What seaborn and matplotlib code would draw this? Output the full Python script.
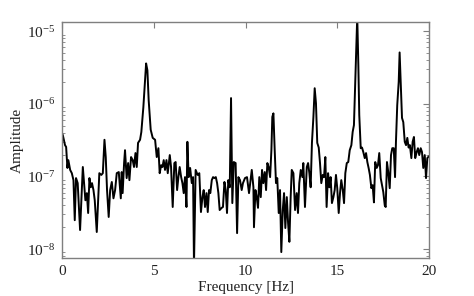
import matplotlib
matplotlib.use("Agg")
import matplotlib.pyplot as plt
import seaborn as sns
import pandas as pd
from matplotlib.ticker import LogLocator, FixedLocator

freq = [0.0, 0.04, 0.16, 0.22, 0.29, 0.34, 0.44, 0.53, 0.62, 0.69, 0.76, 0.85, 0.98, 1.13, 1.2, 1.27, 1.35, 1.42,
        1.49, 1.56, 1.63, 1.71, 1.78, 1.89, 2.03, 2.14, 2.22, 2.31, 2.38, 2.45, 2.54, 2.62, 2.71, 2.8, 2.89,
        2.98, 3.09, 3.2, 3.25, 3.3, 3.38, 3.43, 3.52, 3.6, 3.67, 3.76, 3.85, 3.92, 4.0, 4.07, 4.14, 4.25,
        4.32, 4.43, 4.52, 4.58, 4.65, 4.72, 4.83, 4.94, 5.07, 5.16, 5.25, 5.32,
        5.4, 5.47, 5.54, 5.61, 5.69, 5.76, 5.87, 5.94, 6.03, 6.12, 6.19, 6.27, 6.34, 6.41, 6.49, 6.56, 6.63,
        6.7, 6.78, 6.83, 6.9, 6.98, 7.07, 7.14, 7.19, 7.28, 7.39, 7.48, 7.57, 7.65, 7.72, 7.79, 7.87, 7.94,
        8.01, 8.08, 8.16, 8.23, 8.3, 8.38, 8.45, 8.52, 8.59, 8.7, 8.77, 8.85, 8.92, 8.99, 9.06, 9.14, 9.21,
        9.28, 9.36, 9.46, 9.54, 9.61, 9.7, 9.79, 9.86, 9.97, 10.08, 10.19, 10.34, 10.43,
        10.46, 10.54, 10.61, 10.68, 10.75, 10.83, 10.9, 10.97, 11.05, 11.12, 11.19, 11.26, 11.34, 11.41,
        11.46, 11.52, 11.59, 11.66, 11.73, 11.81, 11.88, 11.95, 12.03, 12.1, 12.17, 12.25, 12.32, 12.39,
        12.46, 12.52, 12.61, 12.7, 12.79, 12.86, 12.93, 13.01, 13.1, 13.15, 13.24, 13.34, 13.41, 13.48,
        13.55, 13.62, 13.7, 13.77, 13.84, 13.91, 13.99, 14.06, 14.13, 14.21, 14.28, 14.35, 14.42, 14.5,
        14.57, 14.64, 14.71, 14.79, 14.86, 14.93, 15.0, 15.08, 15.15, 15.22, 15.3, 15.37, 15.44, 15.52,
        15.6, 15.68, 15.77, 15.84, 15.91, 15.98, 16.06, 16.09, 16.15, 16.2, 16.28, 16.35, 16.42, 16.5,
        16.57, 16.64, 16.71, 16.78, 16.86, 16.93, 17.0, 17.07, 17.15, 17.22, 17.29, 17.37, 17.44, 17.51,
        17.59, 17.64, 17.71, 17.78, 17.86, 17.93, 18.0, 18.08, 18.15, 18.2, 18.27, 18.35, 18.4, 18.46,
        18.53, 18.6, 18.68, 18.75, 18.82, 18.89, 18.96, 19.04, 19.11, 19.18, 19.25, 19.33, 19.4, 19.47,
        19.55, 19.62, 19.69, 19.77, 19.84, 19.91, 20.0]

amplitude = [3.9e-7, 3.7e-7, 2.7e-7, 2.55e-7, 1.31e-7, 1.68e-7, 1.23e-7, 1.11e-7, 8.9e-8, 2.5e-8, 9.5e-8,
             8.1e-8, 1.83e-8, 1.35e-7, 8.1e-8, 4.7e-8, 5.9e-8, 3.14e-8, 9.5e-8, 7.1e-8, 8.1e-8, 6.5e-8,
             4.7e-8, 1.72e-8, 1.11e-7, 1.05e-7, 1.11e-7, 3.2e-7, 1.85e-7, 6.5e-8, 2.77e-8, 6.5e-8, 8.4e-8,
             5.0e-8, 6.5e-8, 1.11e-7, 1.15e-7, 5.0e-8, 1.15e-7, 5.9e-8, 1.53e-7, 2.3e-7, 9.5e-8, 1.53e-7,
             8.9e-8, 1.85e-7, 1.68e-7, 1.35e-7, 2.1e-7, 1.35e-7, 2.9e-7, 3.2e-7, 4.1e-7, 9.0e-7, 2.1e-6,
             3.6e-6, 2.9e-6, 1.12e-6, 4.4e-7, 3.4e-7, 3.2e-7, 1.85e-7, 2.45e-7, 1.11e-7,
             1.43e-7, 1.35e-7, 1.68e-7, 1.23e-7, 1.68e-7, 1.11e-7, 1.97e-7, 1.35e-7, 3.8e-8, 1.53e-7,
             1.58e-7, 6.5e-8, 9.8e-8, 1.35e-7, 9.8e-8, 8.1e-8, 5.9e-8, 9.8e-8, 3.8e-8, 3.0e-7, 9.8e-8,
             1.31e-7, 8.1e-8, 9.8e-8, 6.0e-9, 1.23e-7, 1.05e-7, 1.11e-7, 3.24e-8, 5.2e-8, 6.5e-8, 3.8e-8,
             5.9e-8, 3.24e-8, 6.5e-8, 5.9e-8, 8.9e-8, 9.8e-8, 9.5e-8, 9.8e-8, 8.1e-8, 5.9e-8, 3.45e-8,
             3.7e-8, 3.8e-8, 8.4e-8, 6.5e-8, 3.14e-8, 8.9e-8, 7.1e-8, 1.2e-6, 4.3e-8, 1.58e-7, 1.53e-7,
             1.66e-8, 9.8e-8, 8.9e-8, 6.5e-8, 8.1e-8, 9.5e-8, 9.8e-8, 5.9e-8, 1.23e-7, 7.1e-8,
             2.0e-8, 6.5e-8, 5.2e-8, 3.7e-8, 9.8e-8, 5.2e-8, 1.23e-7, 8.1e-8, 1.15e-7, 6.5e-8, 1.53e-7,
             1.35e-7, 9.8e-8, 2.3e-7, 6.6e-7, 7.4e-7, 2.3e-7, 8.1e-8, 9.5e-8, 3.14e-8, 6.5e-8, 9.1e-9,
             3.45e-8, 5.9e-8, 1.95e-8, 5.2e-8, 2.29e-8, 1.26e-8, 5.2e-8, 1.23e-7, 1.11e-7, 3.45e-8, 5.9e-8,
             3.14e-8, 8.1e-8, 1.23e-7, 9.8e-8, 1.53e-7, 3.8e-8, 1.35e-7, 1.53e-7, 1.11e-7, 7.1e-8, 2.9e-7,
             6.6e-7, 1.64e-6, 1.02e-6, 2.9e-7, 2.5e-7, 1.53e-7, 8.1e-8, 1.05e-7, 9.8e-8, 1.85e-7, 3.8e-8,
             1.11e-7, 7.1e-8, 9.8e-8, 4.3e-8, 5.2e-8, 6.5e-8, 1.05e-7, 6.9e-8, 3.14e-8, 5.9e-8, 8.9e-8,
             6.5e-8, 4.3e-8, 1.11e-7, 1.53e-7, 1.58e-7, 2.3e-7, 2.7e-7, 4.1e-7, 5.1e-7, 2.0e-6, 8.8e-6,
             1.6e-5, 3.4e-6, 7.0e-7, 2.45e-7, 2.5e-7, 2.17e-7, 1.79e-7, 2.1e-7, 1.58e-7, 1.31e-7, 1.05e-7,
             6.9e-8, 7.6e-8, 4.4e-8, 1.58e-7, 1.31e-7, 1.43e-7, 2.1e-7, 9.5e-8, 7.6e-8, 6.1e-8, 4.0e-8,
             3.8e-8, 1.58e-7, 1.15e-7, 6.9e-8, 1.97e-7, 2.45e-7, 2.45e-7, 9.8e-8, 3.0e-7, 9.6e-7, 2.0e-6,
             5.1e-6, 2.0e-6, 6.4e-7, 5.6e-7, 3.0e-7, 2.7e-7, 3.4e-7, 2.5e-7, 2.7e-7, 1.79e-7, 3.0e-7,
             3.5e-7, 1.79e-7, 2.17e-7, 2.45e-7, 1.97e-7, 2.45e-7, 2.17e-7, 1.31e-7, 1.97e-7, 9.5e-8,
             1.79e-7, 1.9e-7]

x_ticks = [0, 5, 10, 15, 20]
x_label = "Frequency [Hz]"
y_label = "Amplitude"

sns.set_style("white")
plt.rcParams["font.family"] = ["Liberation Serif", "DejaVu Serif"]
plt.rcParams["mathtext.fontset"] = "stix"

df = pd.DataFrame({"freq": freq, "amp": amplitude})

fig = plt.figure(figsize=(4.74, 2.96), dpi=100)
ax = fig.add_axes([0.131, 0.128, 0.774, 0.797])
sns.lineplot(data=df, x="freq", y="amp", ax=ax, color="black", linewidth=1.4,
             sort=False, estimator=None)
ax.set_yscale("log")
ax.set_xlim(0, 20)
ax.set_ylim(10 ** -8.124, 10 ** -4.876)
ax.xaxis.set_major_locator(FixedLocator(x_ticks))
ax.yaxis.set_major_locator(LogLocator(base=10, numticks=10))
ax.yaxis.set_minor_locator(LogLocator(base=10, subs=range(2, 10), numticks=10))

spine_col = "#7f7f7f"
for s in ax.spines.values():
    s.set_color(spine_col)
    s.set_linewidth(1.0)
    s.set_visible(True)
ax.tick_params(which="both", direction="in", top=True, right=True, colors=spine_col,
               labelcolor="#222222", labelsize=11)
ax.tick_params(which="major", length=4, width=0.8, pad=5)
ax.tick_params(which="minor", length=2, width=0.6, left=True, right=True)
ax.set_xlabel(x_label, fontsize=11, color="#222222", labelpad=2)
ax.set_ylabel(y_label, fontsize=11, color="#222222", labelpad=2)

fig.savefig("out.png", dpi=100, facecolor="white")
